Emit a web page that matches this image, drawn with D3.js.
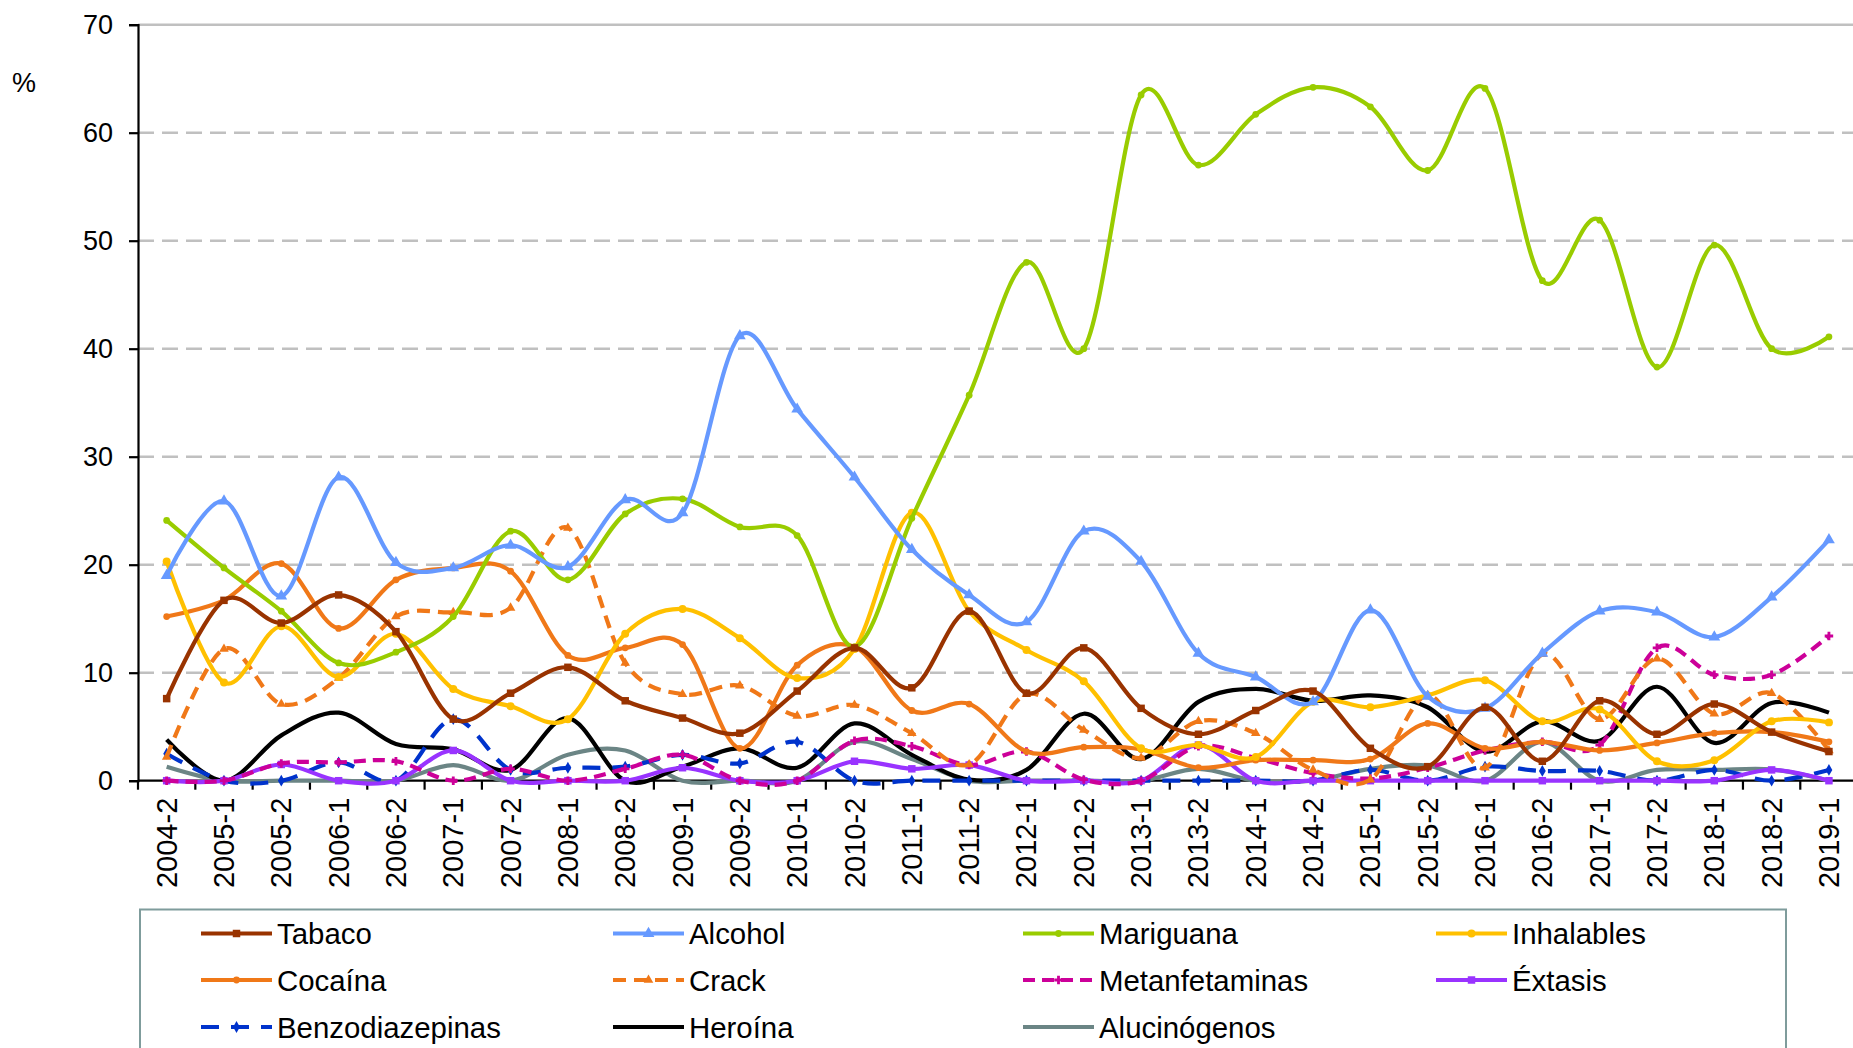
<!DOCTYPE html>
<html><head><meta charset="utf-8">
<script src="https://cdn.jsdelivr.net/npm/d3@7"></script>
<style>
html,body{margin:0;padding:0;background:#fff;}
svg{display:block;font-family:"Liberation Sans",Arial,sans-serif;}
</style></head>
<body>
<svg id="chart" width="1853" height="1048"></svg>
<script>
const categories = ["2004-2","2005-1","2005-2","2006-1","2006-2","2007-1","2007-2","2008-1","2008-2","2009-1","2009-2","2010-1","2010-2","2011-1","2011-2","2012-1","2012-2","2013-1","2013-2","2014-1","2014-2","2015-1","2015-2","2016-1","2016-2","2017-1","2017-2","2018-1","2018-2","2019-1"];
const yTicks = [0,10,20,30,40,50,60,70];

const tabaco   = [7.6,16.7,14.6,17.2,13.8,5.7,8.1,10.5,7.4,5.8,4.4,8.3,12.3,8.6,15.7,8.1,12.3,6.7,4.3,6.5,8.3,3.0,1.3,6.8,1.8,7.4,4.3,7.1,4.5,2.7];
const alcohol  = [19.0,25.9,17.1,28.1,20.2,19.7,21.8,19.8,26.0,24.8,41.2,34.4,28.1,21.4,17.2,14.7,23.1,20.3,11.8,9.6,7.3,15.8,7.8,6.7,11.8,15.7,15.6,13.3,17.0,22.3];
const mariguana= [24.1,19.7,15.7,10.9,11.9,15.2,23.1,18.6,24.7,26.1,23.5,22.7,12.4,24.3,35.7,48.0,40.0,63.5,57.0,61.7,64.2,62.4,56.5,64.1,46.3,51.9,38.3,49.6,40.0,41.1];
const inhalables=[20.3,9.1,14.3,9.6,13.6,8.5,6.9,5.7,13.6,15.9,13.2,9.5,12.2,24.8,15.7,12.1,9.2,3.0,3.3,2.2,7.3,6.8,7.9,9.3,5.5,6.6,1.8,1.9,5.5,5.4];
const cocaina  = [15.2,16.7,20.1,14.1,18.6,19.7,19.4,11.6,12.3,12.6,3.0,10.7,12.4,6.5,7.1,2.7,3.1,2.9,1.2,1.9,1.9,2.0,5.3,3.0,3.6,2.8,3.5,4.4,4.5,3.6];
const crack    = [2.2,12.2,7.1,9.5,15.2,15.6,16.0,23.4,10.9,8.0,8.8,6.0,7.0,4.4,1.5,8.0,4.7,2.1,5.5,4.4,1.0,0.1,7.9,1.2,11.7,5.7,11.3,6.2,8.1,2.8];
const metanf   = [0,0,1.6,1.7,1.8,0,1.1,0,1.1,2.4,0,0,3.7,3.2,1.45,2.7,0.1,0,3.2,2.1,0.7,0.2,1.2,2.8,3.6,3.3,12.3,9.8,9.8,13.4];
const extasis  = [0,0,1.5,0,0,2.8,0,0,0,1.2,0,0,1.8,1.1,1.45,0,0,0,3.3,0,0,0,0,0,0,0,0,0,1.0,0];
const benzo    = [2.5,0,0,1.7,0,5.7,1.0,1.2,1.3,2.4,1.6,3.6,0,0,0,0,0,0,0,0,0,1.0,0,1.3,0.9,0.9,0,1.0,0,1.0];
const heroina  = [3.8,0,4.2,6.3,3.4,2.9,1.0,5.8,0,1.3,3.0,1.2,5.3,2.4,0.1,1.0,6.2,2.0,7.3,8.5,7.4,7.9,6.8,2.7,5.5,3.7,8.7,3.5,7.2,6.3];
const alucin   = [1.3,0,0,0,0,1.45,0,2.4,2.8,0,0,0,3.6,2.0,0,0,0,0,1.1,0,0,1.1,1.4,0,3.6,0,1.0,1.0,1.05,0];

const seriesNames = ["Tabaco","Alcohol","Mariguana","Inhalables","Cocaína","Crack","Metanfetaminas","Éxtasis","Benzodiazepinas","Heroína","Alucinógenos"];
const seriesValues = [tabaco,alcohol,mariguana,inhalables,cocaina,crack,metanf,extasis,benzo,heroina,alucin];
const seriesColors = ["#993300","#6699ff","#99cc00","#ffc000","#f07818","#f07818","#cc0099","#9933ff","#0033cc","#000000","#6b8585"];
const seriesDash = [null,null,null,null,null,"13,8","12,7",null,"18,12",null,null];
const seriesMarker = ["square","triangle","circleS","circle","circleS","triangleS","plus","square","diamond",null,null];
const drawOrder = [10,9,8,7,6,5,4,3,2,1,0];

const svg = d3.select("#chart");
const W = 1853, H = 1048;
const plotL = 138, plotR = 1857.6, plotT = 24.7, plotB = 780.7;

const x = d3.scalePoint().domain(categories).range([plotL, plotR]).padding(0.5);
const xb = d3.scaleBand().domain(categories).range([plotL, plotR]);
const y = d3.scaleLinear().domain([0,70]).range([plotB, plotT]);

// gridlines
svg.append("g").selectAll("line").data(yTicks.filter(d=>d>0)).join("line")
  .attr("x1", plotL).attr("x2", W)
  .attr("y1", d=>y(d)).attr("y2", d=>y(d))
  .attr("stroke", "#c0c0c0").attr("stroke-width", 2.5)
  .attr("stroke-dasharray", d=> d===70 ? null : "16,8");

// y axis
const yAxis = d3.axisLeft(y).tickValues(yTicks).tickSize(9).tickPadding(16).tickFormat(d3.format("d"));
const gy = svg.append("g").attr("transform",`translate(${plotL},0)`).call(yAxis);
gy.attr("font-family",null).attr("font-size",null);
gy.select(".domain").attr("stroke","#000").attr("stroke-width",2.2);
gy.selectAll(".tick line").attr("stroke","#000").attr("stroke-width",2.2);
gy.selectAll(".tick text").attr("font-size",27).attr("fill","#000");

svg.append("text").attr("x",12).attr("y",92).attr("font-size",27).text("%");

// x axis
svg.append("line").attr("x1",plotL).attr("x2",W).attr("y1",plotB).attr("y2",plotB)
  .attr("stroke","#000").attr("stroke-width",2.2);
const bounds = categories.map(c=>xb(c)).concat([plotR]);
svg.append("g").selectAll("line").data(bounds).join("line")
  .attr("x1",d=>d).attr("x2",d=>d).attr("y1",plotB).attr("y2",plotB+9)
  .attr("stroke","#000").attr("stroke-width",2.2);
svg.append("g").selectAll("text").data(categories).join("text")
  .attr("transform",d=>`translate(${x(d)},${plotB+17}) rotate(-90)`)
  .attr("text-anchor","end").attr("dominant-baseline","central")
  .attr("font-size",29).text(d=>d);

// lines
const line = d3.line().curve(d3.curveCardinal.tension(0))
  .x((d,i)=>x(categories[i])).y(d=>y(d));

function markerPath(type){
  switch(type){
    case "square": return d3.symbol(d3.symbolSquare, 56)();
    case "triangle": return d3.symbol(d3.symbolTriangle, 60)();
    case "triangleS": return d3.symbol(d3.symbolTriangle, 40)();
    case "circle": return d3.symbol(d3.symbolCircle, 50)();
    case "circleS": return d3.symbol(d3.symbolCircle, 36)();
    case "diamond": return d3.symbol(d3.symbolDiamond, 40)();
    case "plus": return d3.symbol(d3.symbolCross, 40)();
  }
  return null;
}

const gl = svg.append("g");
drawOrder.forEach(si=>{
  const vals = seriesValues[si];
  const g = gl.append("g");
  g.append("path").attr("d", line(vals))
    .attr("fill","none").attr("stroke",seriesColors[si]).attr("stroke-width",4.2)
    .attr("stroke-linejoin","round")
    .attr("stroke-dasharray", seriesDash[si]);
  const mp = markerPath(seriesMarker[si]);
  if(mp){
    g.selectAll("path.m").data(vals).join("path").attr("class","m")
      .attr("d",mp).attr("transform",(d,i)=>`translate(${x(categories[i])},${y(d)})`)
      .attr("fill",seriesColors[si]);
  }
});

// legend
const lg = svg.append("g");
lg.append("rect").attr("x",140).attr("y",909.5).attr("width",1646).attr("height",160)
  .attr("fill","#fff").attr("stroke","#7f9c9c").attr("stroke-width",2);
const colX = [201, 613, 1023, 1436];
const rowY = [933.5, 980, 1027];
seriesNames.forEach((name,si)=>{
  const c = si%4, r = Math.floor(si/4);
  const lx = colX[c], ly = rowY[r];
  const g = lg.append("g");
  g.append("line").attr("x1",lx).attr("x2",lx+71).attr("y1",ly).attr("y2",ly)
    .attr("stroke",seriesColors[si]).attr("stroke-width",4.2)
    .attr("stroke-dasharray", seriesDash[si]);
  const mp = markerPath(seriesMarker[si]);
  if(mp) g.append("path").attr("d",mp).attr("transform",`translate(${lx+35.5},${ly})`).attr("fill",seriesColors[si]);
  g.append("text").attr("x",lx+76).attr("y",ly).attr("dominant-baseline","central")
    .attr("font-size",29.4).text(name);
});
</script>
</body></html>
